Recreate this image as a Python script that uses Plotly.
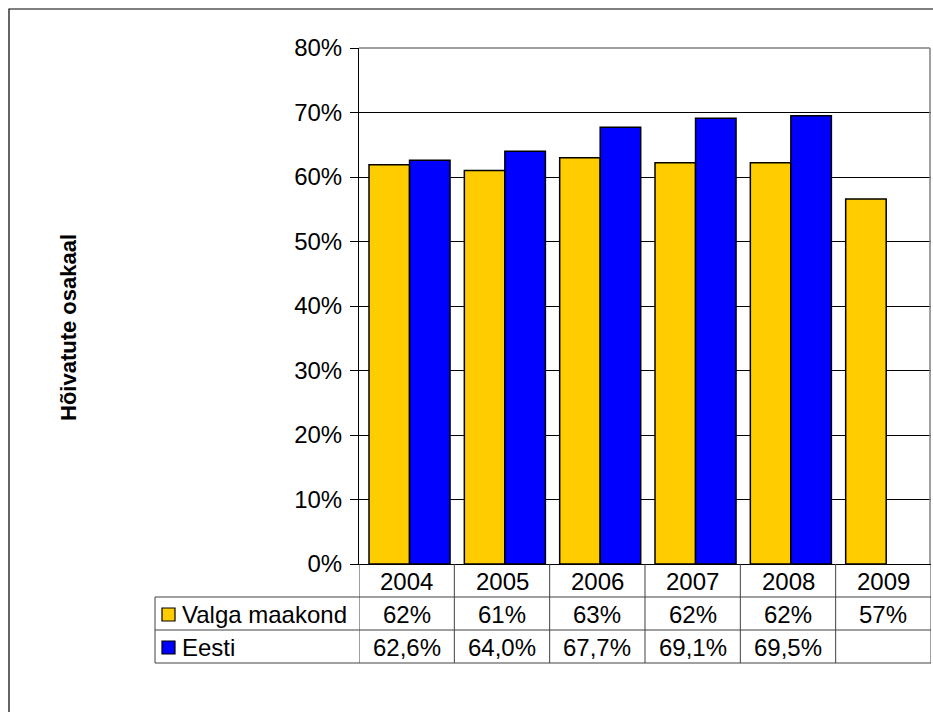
import plotly.graph_objects as go

years = ['2004', '2005', '2006', '2007', '2008', '2009']
valga = [61.9, 61.0, 63.0, 62.2, 62.2, 56.6]
eesti = [62.6, 64.0, 67.7, 69.1, 69.5, None]
valga_lbl = ['62%', '61%', '63%', '62%', '62%', '57%']
eesti_lbl = ['62,6%', '64,0%', '67,7%', '69,1%', '69,5%', '']
series_names = ['Valga maakond', 'Eesti']
series_colors = ['#FFCC00', '#0000FF']
y_ticks = [0, 10, 20, 30, 40, 50, 60, 70, 80]

W, H = 933, 712
def px(x): return x / W
def py(y): return 1 - y / H

fig = go.Figure()
# bar placement inside each year column, as in the original
for name, vals, col, off in zip(series_names, [valga, eesti], series_colors, [-0.395, 0.03]):
    fig.add_trace(go.Bar(x=years, y=vals, name=name, marker_color=col, width=0.425, offset=off,
                         marker_line=dict(color='black', width=1.5)))

line_col = '#404040'
shapes = []
# outer chart border (runs off the right/bottom edge like the original)
shapes.append(dict(type='rect', xref='paper', yref='paper', x0=px(9), x1=px(945), y0=py(9), y1=py(725),
                   line=dict(color='black', width=1.2)))
# plot area top/right border
shapes.append(dict(type='line', xref='paper', yref='paper', x0=px(359), x1=px(930), y0=py(48), y1=py(48),
                   line=dict(color='#808080', width=1.5)))
shapes.append(dict(type='line', xref='paper', yref='paper', x0=px(930), x1=px(930), y0=py(48), y1=py(564),
                   line=dict(color='#808080', width=1.5)))
# table horizontal lines
for yy in [597, 630, 663]:
    shapes.append(dict(type='line', xref='paper', yref='paper', x0=px(155), x1=px(931), y0=py(yy), y1=py(yy),
                       line=dict(color=line_col, width=1)))
shapes.append(dict(type='line', xref='paper', yref='paper', x0=px(155), x1=px(155), y0=py(597), y1=py(663),
                   line=dict(color=line_col, width=1)))
# table vertical lines at category boundaries
for i in range(len(years) + 1):
    shapes.append(dict(type='line', xref='x', yref='paper', x0=i - 0.5, x1=i - 0.5, y0=py(564), y1=py(663),
                       line=dict(color=line_col, width=1)))
# legend swatches
for r, col in enumerate(series_colors):
    yc = 614 + 33 * r
    shapes.append(dict(type='rect', xref='paper', yref='paper', x0=px(162), x1=px(175), y0=py(yc - 6), y1=py(yc + 7),
                       fillcolor=col, line=dict(color='black', width=1.2)))

ann = []
font = dict(family='Liberation Sans, Arial', size=24, color='black')
for i, yr in enumerate(years):
    for txt, yy in [(yr, 581), (valga_lbl[i], 614), (eesti_lbl[i], 647)]:
        ann.append(dict(x=i, y=py(yy), xref='x', yref='paper', text=txt, showarrow=False,
                        xanchor='center', yanchor='middle', font=font))
for r, name in enumerate(series_names):
    ann.append(dict(x=px(180), y=py(614 + 33 * r), xref='paper', yref='paper', text=name, showarrow=False,
                    xanchor='left', yanchor='middle', font=font))
ann.append(dict(x=px(68), y=py(328), xref='paper', yref='paper', text='<b>Hõivatute osakaal</b>', textangle=-90,
                showarrow=False, xanchor='center', yanchor='middle',
                font=dict(family='Liberation Sans, Arial', size=22, color='black')))

fig.update_layout(
    width=W, height=H, margin=dict(l=0, r=0, t=0, b=0, autoexpand=False),
    plot_bgcolor='white', paper_bgcolor='white',
    barmode='overlay',
    showlegend=False, font=font,
    xaxis=dict(type='category', domain=[px(359), px(931)], range=[-0.5, 5.5], showticklabels=False,
               showgrid=False, showline=True, linecolor='black', linewidth=1, ticks='', automargin=False),
    yaxis=dict(domain=[py(564), py(48)], range=[0, 80], tickvals=y_ticks,
               ticktext=[f'{v}%' for v in y_ticks], showgrid=True, gridcolor='black', gridwidth=1,
               showline=True, linecolor='black', linewidth=1, ticks='outside', ticklen=8, tickcolor='black',
               ticklabelstandoff=3, zeroline=False, tickfont=font, automargin=False),
    shapes=shapes, annotations=ann,
)
fig.write_html('out.html', config={'displayModeBar': False},
               post_script="document.body.style.margin='0';document.body.style.overflow='hidden';")
